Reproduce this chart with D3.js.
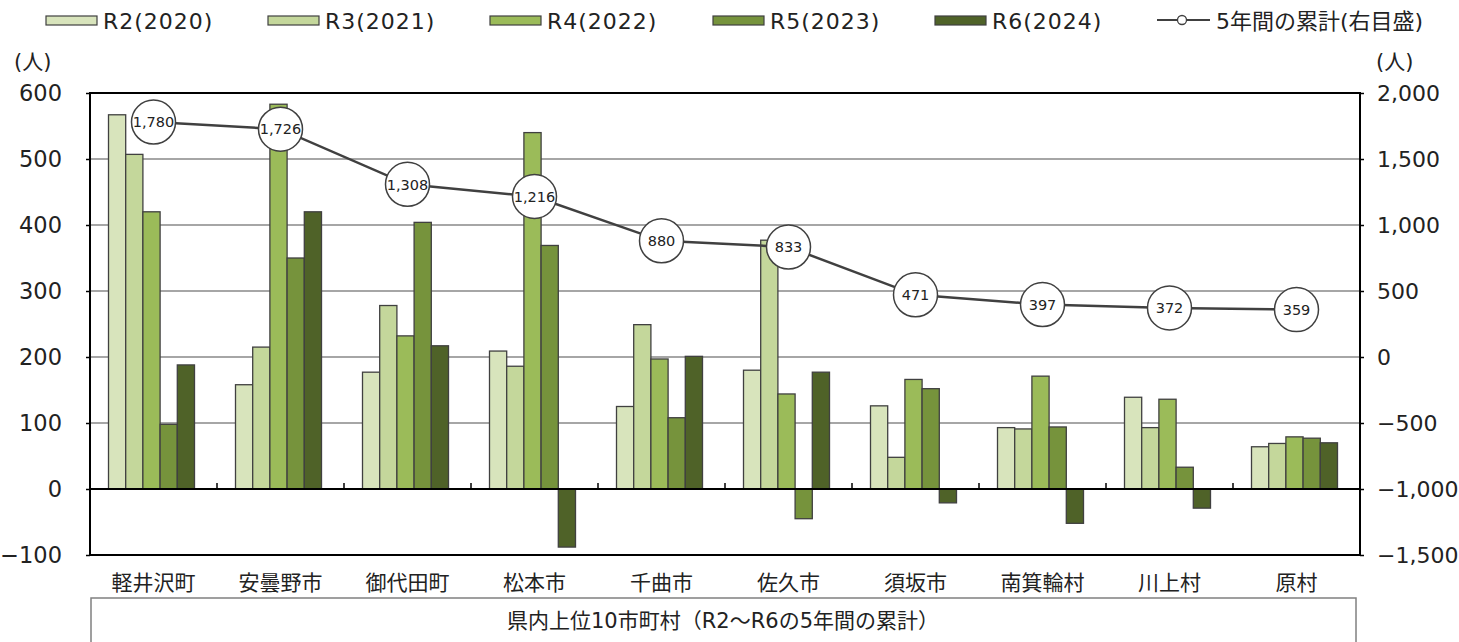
<!DOCTYPE html>
<html><head><meta charset="utf-8">
<script src="https://cdn.jsdelivr.net/npm/d3@7"></script>
<style>
body{margin:0;background:#fff;}
text{font-family:"DejaVu Sans","Noto Sans CJK JP",sans-serif;fill:#222;}
</style></head>
<body><svg id="chart" width="1459" height="642"></svg>
<script>
const categories = ["軽井沢町","安曇野市","御代田町","松本市","千曲市","佐久市","須坂市","南箕輪村","川上村","原村"];
const seriesNames = ["R2(2020)","R3(2021)","R4(2022)","R5(2023)","R6(2024)"];
const r2 = [567,158,177,209,125,180,126,93,139,64];
const r3 = [507,215,278,186,249,377,48,91,93,69];
const r4 = [420,583,232,540,197,144,166,171,136,79];
const r5 = [98,350,404,369,108,-45,152,94,33,77];
const r6 = [188,420,217,-88,201,177,-21,-52,-29,70];
const totals = [1780,1726,1308,1216,880,833,471,397,372,359];
const lineName = "5年間の累計(右目盛)";
const leftTicks = [600,500,400,300,200,100,0,-100];
const rightTicks = [2000,1500,1000,500,0,-500,-1000,-1500];
const colors = ["#d8e4bc","#c4d79b","#9bbb59","#76933c","#4f6228"];
const seriesVals = [r2,r3,r4,r5,r6];

const svg = d3.select("#chart");
const L=90, R=1360, T=93, B=555;
const x0 = d3.scaleBand().domain(categories).range([L,R]);
const bw = x0.bandwidth();
const groupW = 86;
const x1 = d3.scaleBand().domain(seriesNames).range([(bw-groupW)/2-2,(bw+groupW)/2-2]);
const y = d3.scaleLinear().domain([-100,600]).range([B,T]);
const y2 = d3.scaleLinear().domain([-1500,2000]).range([B,T]);

// grid
svg.append("g").selectAll("line").data(leftTicks.filter(d=>d!==600&&d!==-100&&d!==0)).join("line")
 .attr("x1",L).attr("x2",R).attr("y1",d=>y(d)).attr("y2",d=>y(d))
 .attr("stroke","#a6a6a6").attr("stroke-width",2);

// bars
const gBars = svg.append("g");
seriesVals.forEach((vals,si)=>{
  gBars.append("g").selectAll("rect").data(vals).join("rect")
   .attr("x",(d,i)=>x0(categories[i])+x1(seriesNames[si]))
   .attr("width",x1.bandwidth())
   .attr("y",d=>y(Math.max(0,d)))
   .attr("height",d=>Math.abs(y(d)-y(0)))
   .attr("fill",colors[si]).attr("stroke","#404040").attr("stroke-width",1.3);
});

// zero line
svg.append("line").attr("x1",L).attr("x2",R).attr("y1",y(0)).attr("y2",y(0)).attr("stroke","#000").attr("stroke-width",2);
// category ticks on zero line
svg.append("g").selectAll("line").data(categories.slice(1).concat(["__end"])).join("line")
 .attr("x1",(d,i)=>L+bw*(i+1)).attr("x2",(d,i)=>L+bw*(i+1))
 .attr("y1",y(0)).attr("y2",y(0)-6).attr("stroke","#000").attr("stroke-width",1.5);

// frame
svg.append("rect").attr("x",L).attr("y",T).attr("width",R-L).attr("height",B-T)
 .attr("fill","none").attr("stroke","#000").attr("stroke-width",2);

// left axis
const la = svg.append("g").attr("transform",`translate(${L},0)`)
 .call(d3.axisLeft(y).tickValues(leftTicks).tickSize(4).tickPadding(24).tickFormat(d3.format("d")));
la.select(".domain").remove();
la.selectAll("line").attr("stroke","#000").attr("stroke-width",1.5);
la.selectAll("text").attr("font-size",22.5).attr("fill","#222").style("font-family","'DejaVu Sans',sans-serif");

// right axis
const ra = svg.append("g").attr("transform",`translate(${R},0)`)
 .call(d3.axisRight(y2).tickValues(rightTicks).tickSize(4).tickPadding(13).tickFormat(d3.format(",")));
ra.select(".domain").remove();
ra.selectAll("line").attr("stroke","#000").attr("stroke-width",1.5);
ra.selectAll("text").attr("font-size",22).attr("fill","#222").style("font-family","'DejaVu Sans',sans-serif");

// units
svg.append("text").attr("x",14).attr("y",69).attr("font-size",21).text("(人)");
svg.append("text").attr("x",1376).attr("y",69).attr("font-size",21).text("(人)");

// line
const cx = c=>x0(c)+bw/2;
svg.append("path").datum(totals)
 .attr("d",d3.line().x((d,i)=>cx(categories[i])).y(d=>y2(d)))
 .attr("fill","none").attr("stroke","#404040").attr("stroke-width",2.5);
const pts = svg.append("g").selectAll("g").data(totals).join("g")
 .attr("transform",(d,i)=>`translate(${cx(categories[i])},${y2(d)})`);
pts.append("circle").attr("r",22).attr("fill","#fff").attr("stroke","#404040").attr("stroke-width",1.5);
pts.append("text").attr("text-anchor","middle").attr("dy","0.36em").attr("font-size",14.5).text(d=>d3.format(",")(d));

// category labels
svg.append("g").selectAll("text").data(categories).join("text")
 .attr("x",d=>cx(d)).attr("y",590).attr("text-anchor","middle").attr("font-size",21).text(d=>d);

// bottom title box
svg.append("rect").attr("x",91).attr("y",598).attr("width",1265).attr("height",60)
 .attr("fill","none").attr("stroke","#808080").attr("stroke-width",1.5);
svg.append("text").attr("x",723).attr("y",628).attr("text-anchor","middle").attr("font-size",21).attr("fill","#404040")
 .text("県内上位10市町村（R2～R6の5年間の累計）");

// legend
const legX = [46,268,490,713,935];
const lg = svg.append("g");
seriesNames.forEach((s,i)=>{
  lg.append("rect").attr("x",legX[i]).attr("y",16).attr("width",51).attr("height",9)
    .attr("fill",colors[i]).attr("stroke","#404040").attr("stroke-width",1.2);
  lg.append("text").attr("x",legX[i]+57).attr("y",29).attr("font-size",22).attr("letter-spacing",1).text(s);
});
lg.append("line").attr("x1",1157).attr("x2",1210).attr("y1",20).attr("y2",20).attr("stroke","#404040").attr("stroke-width",2);
lg.append("circle").attr("cx",1182).attr("cy",20).attr("r",4.5).attr("fill","#fff").attr("stroke","#404040").attr("stroke-width",1.3);
lg.append("text").attr("x",1216).attr("y",29).attr("font-size",22).text(lineName);
</script></body></html>
